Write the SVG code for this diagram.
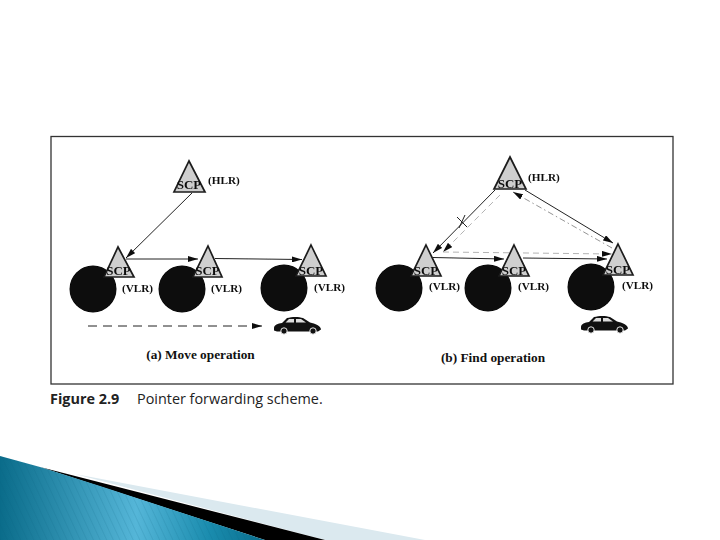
<svg xmlns="http://www.w3.org/2000/svg" width="720" height="540" viewBox="0 0 720 540">
<style>
.tri{fill:#cfcfcf;stroke:#1c1c1c;stroke-width:1.7;stroke-linejoin:miter}
.cell{fill:#070707}
.scp{font:bold 13px "Liberation Serif",serif;text-anchor:middle;fill:#111}
.lb{font:bold 11.200px "Liberation Serif",serif;fill:#111}
.cap{font:bold 13.300px "Liberation Serif",serif;text-anchor:middle;fill:#111}
.ln{fill:none;stroke:#222;stroke-width:1}
.pt{fill:none;stroke:#aaa;stroke-width:.9;stroke-dasharray:6 4}
.dd{fill:none;stroke:#888;stroke-width:.9;stroke-dasharray:6 3 1.5 3}
.soft{filter:url(#soft)}
</style>
<defs>
<filter id="soft" x="-5%" y="-5%" width="110%" height="110%"><feGaussianBlur stdDeviation="0.35"/></filter>
<marker id="a" viewBox="0 0 10 6" refX="10" refY="3" markerWidth="10" markerHeight="6" markerUnits="userSpaceOnUse" orient="auto"><path d="M0 0L10 3L0 6z" fill="#111"/></marker>
<linearGradient id="blue" gradientUnits="userSpaceOnUse" x1="0" y1="500" x2="262" y2="500"><stop offset="0" stop-color="#0a6c8a"/><stop offset=".52" stop-color="#55b6d8"/><stop offset=".8" stop-color="#1a8cae"/><stop offset="1" stop-color="#0a6f8e"/></linearGradient>
<pattern id="st" width="6" height="6" patternUnits="userSpaceOnUse" patternTransform="rotate(-25)"><rect width="1" height="6" fill="#0b5f7c" opacity=".13"/></pattern>
<g id="car"><path d="M0 11C0 8 4 6.500 8 6L13 1C18 -.5 25 -.5 29 1L36 5.500C41 6.500 47 9 47 12.500L44 14.500H3L0 13.500Z" fill="#111"/><path d="M15 2H20V5.500H11.500ZM22 2H27L32 5.500H22Z" fill="#ddd"/><circle cx="10" cy="14" r="3.200" fill="#111" stroke="#fff" stroke-width=".9"/><circle cx="39" cy="14" r="3.200" fill="#111" stroke="#fff" stroke-width=".9"/></g>
</defs>
<rect width="720" height="540" fill="#fff"/>
<g id="slide-art">
<path d="M75 474L425 540H325Z" fill="#dbe9ef"/>
<path d="M40 467L325 540H265Z" fill="#000"/>
<path d="M0 456L40 467L100 486L265 540H0Z" fill="url(#blue)"/>
<path d="M0 456L40 467L100 486L265 540H0Z" fill="url(#st)"/>
</g>
<rect id="frame" x="51" y="136.500" width="622" height="247.500" fill="#fff" stroke="#333" stroke-width="1.300"/>
<g id="connectors" class="soft">
<path class="ln" marker-end="url(#a)" d="M192 193L126 258"/>
<path class="ln" marker-end="url(#a)" d="M126 259H198"/>
<path class="ln" marker-end="url(#a)" d="M215 258.500L302 259.500"/>
<path class="ln" stroke-dasharray="9 6" marker-end="url(#a)" d="M88 326H262"/>
<path class="ln" marker-end="url(#a)" d="M495 190L433 253"/>
<path class="ln" d="M457 217L467 227M459 228L465 215"/>
<path class="ln" marker-end="url(#a)" d="M525 190L613 243"/>
<path class="ln" marker-end="url(#a)" d="M433 257.500L504 259"/>
<path class="ln" marker-end="url(#a)" d="M523 258L607 259"/>
<path class="pt" marker-end="url(#a)" d="M500 195L443 252"/>
<path class="pt" marker-end="url(#a)" d="M443 252L612 254"/>
<path class="dd" marker-end="url(#a)" d="M612 248L513 192"/>
</g>
<g id="a-hlr" class="soft"><path class="tri" d="M189 161L205 192H174Z"/><text class="scp" x="189" y="189">SCP</text><text class="lb" x="208" y="184">(HLR)</text></g>
<g id="a-vlr1" class="soft"><circle class="cell" cx="93" cy="289" r="23.500"/><path class="tri" d="M118 247L134 277H104Z"/><text class="scp" x="118.500" y="275">SCP</text><text class="lb" x="122" y="292">(VLR)</text></g>
<g id="a-vlr2" class="soft"><circle class="cell" cx="182" cy="289" r="23.500"/><path class="tri" d="M208 246L222 277H193Z"/><text class="scp" x="207.500" y="275">SCP</text><text class="lb" x="211" y="292">(VLR)</text></g>
<g id="a-vlr3" class="soft"><circle class="cell" cx="284" cy="288" r="23.500"/><path class="tri" d="M311 245L326 276H296Z"/><text class="scp" x="311" y="274.500">SCP</text><text class="lb" x="314" y="291">(VLR)</text></g>
<use id="a-car" href="#car" x="274" y="317"/>
<text id="a-cap" class="cap" x="200.500" y="359">(a) Move operation</text>
<g id="b-hlr" class="soft"><path class="tri" d="M510 157L526 189H494Z"/><text class="scp" x="510" y="187.500">SCP</text><text class="lb" x="528" y="181">(HLR)</text></g>
<g id="b-vlr1" class="soft"><circle class="cell" cx="399" cy="288" r="23.500"/><path class="tri" d="M426 245L441 276H411Z"/><text class="scp" x="426" y="274.500">SCP</text><text class="lb" x="429" y="290">(VLR)</text></g>
<g id="b-vlr2" class="soft"><circle class="cell" cx="488" cy="288" r="23.500"/><path class="tri" d="M514 245L529 276H499Z"/><text class="scp" x="514" y="274.500">SCP</text><text class="lb" x="518" y="290">(VLR)</text></g>
<g id="b-vlr3" class="soft"><circle class="cell" cx="591" cy="287" r="23.500"/><path class="tri" d="M618 244L633 275H603Z"/><text class="scp" x="618" y="273.500">SCP</text><text class="lb" x="622" y="289">(VLR)</text></g>
<use id="b-car" href="#car" x="581" y="316"/>
<text id="b-cap" class="cap" x="493" y="362">(b) Find operation</text>
<text x="50" y="404" style="font:bold 14.400px 'Open Sans',sans-serif;fill:#222">Figure 2.9</text>
<text x="137" y="404" style="font:14.400px 'Open Sans',sans-serif;fill:#222">Pointer forwarding scheme.</text>
</svg>
